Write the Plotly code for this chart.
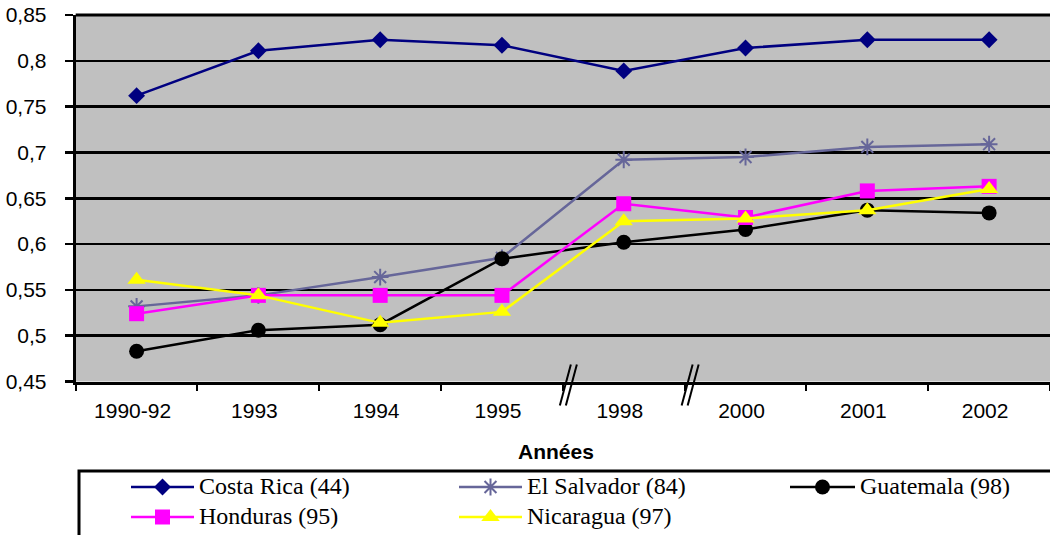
import plotly.graph_objects as go

# ---- data ----
categories = ["1990-92", "1993", "1994", "1995", "1998", "2000", "2001", "2002"]
costa_rica = [0.762, 0.811, 0.823, 0.817, 0.789, 0.814, 0.823, 0.823]
el_salvador = [0.532, 0.544, 0.564, 0.585, 0.692, 0.695, 0.706, 0.709]
guatemala = [0.483, 0.506, 0.512, 0.584, 0.602, 0.616, 0.637, 0.634]
honduras = [0.524, 0.544, 0.544, 0.544, 0.644, 0.629, 0.658, 0.663]
nicaragua = [0.561, 0.544, 0.514, 0.526, 0.625, 0.628, 0.637, 0.660]

series_names = ["Costa Rica (44)", "El Salvador (84)", "Guatemala (98)",
                "Honduras (95)", "Nicaragua (97)"]
ytick_vals = [0.45, 0.5, 0.55, 0.6, 0.65, 0.7, 0.75, 0.8, 0.85]
ytick_text = ["0,45", "0,5", "0,55", "0,6", "0,65", "0,7", "0,75", "0,8", "0,85"]
break_positions = [3.5, 4.5]
x_title = "Années"

# ---- styles ----
W, H = 1050, 535
PLOT_LEFT, PLOT_RIGHT, PLOT_TOP, PLOT_BOTTOM = 75.7, 1050.0, 15.0, 381.5
SERIF = "Liberation Serif"
SANS = "Liberation Sans"
styles = [
    dict(color="#000080", symbol="diamond", size=13, lw=0),
    dict(color="#666699", symbol="asterisk-open", size=14, lw=2),
    dict(color="#000000", symbol="circle", size=15, lw=0),
    dict(color="#FF00FF", symbol="square", size=15, lw=0),
    dict(color="#FFFF00", symbol="triangle-up", size=16, lw=0),
]
values = [costa_rica, el_salvador, guatemala, honduras, nicaragua]

fig = go.Figure()
for name, vals, st in zip(series_names, values, styles):
    fig.add_trace(go.Scatter(
        x=categories, y=vals, name=name, mode="lines+markers",
        line=dict(color=st["color"], width=2.5),
        marker=dict(symbol=st["symbol"], size=st["size"], color=st["color"],
                    line=dict(color=st["color"], width=st["lw"])),
        xaxis="x", yaxis="y", showlegend=False, cliponaxis=False,
    ))

# ---- manual legend (pixel overlay axes) ----
legend_slots = [(131, 194, 487), (459, 522, 487), (790, 855, 487),
                (131, 194, 517), (459, 522, 517)]
for name, st, (lx0, lx1, ly) in zip(series_names, styles, legend_slots):
    fig.add_trace(go.Scatter(
        x=[lx0, lx1], y=[ly, ly], mode="lines",
        line=dict(color=st["color"], width=2.5),
        xaxis="x2", yaxis="y2", showlegend=False, hoverinfo="skip"))
    fig.add_trace(go.Scatter(
        x=[(lx0 + lx1) / 2], y=[ly], mode="markers",
        marker=dict(symbol=st["symbol"], size=st["size"], color=st["color"],
                    line=dict(color=st["color"], width=st["lw"])),
        xaxis="x2", yaxis="y2", showlegend=False, hoverinfo="skip",
        cliponaxis=False))
    fig.add_annotation(x=lx1 + 3, y=ly - 1, xref="x2", yref="y2", text=name,
                       showarrow=False, xanchor="left", yanchor="middle",
                       font=dict(family=SERIF, size=24, color="black"))

shapes = [
    dict(type="rect", xref="x domain", yref="y domain", x0=0, x1=1, y0=0, y1=1,
         fillcolor="#C0C0C0", line=dict(width=0, color="rgba(0,0,0,0)"),
         layer="below"),
    dict(type="line", xref="x2", yref="y2", x0=PLOT_LEFT, x1=W + 5,
         y0=PLOT_TOP, y1=PLOT_TOP, line=dict(color="black", width=3)),
    dict(type="rect", xref="x2", yref="y2", x0=79, x1=1070, y0=471, y1=560,
         fillcolor="white", line=dict(color="black", width=3), layer="below"),
]
n_cat = len(categories)
spacing = (PLOT_RIGHT - PLOT_LEFT) / n_cat
for bp in break_positions:
    px = PLOT_LEFT + (bp + 0.5) * spacing
    for off in (-3, 3):
        shapes.append(dict(
            type="line", xref="x2", yref="y2",
            x0=px + off, x1=px + off + 11, y0=PLOT_BOTTOM + 24, y1=PLOT_BOTTOM - 17,
            line=dict(color="black", width=2), layer="above"))

fig.add_annotation(x=556, y=451, xref="x2", yref="y2", text="<b>" + x_title + "</b>",
                   showarrow=False, xanchor="center", yanchor="middle",
                   font=dict(family=SANS, size=21, color="black"))

fig.update_layout(
    width=W, height=H,
    margin=dict(l=0, r=0, t=0, b=0),
    paper_bgcolor="white", plot_bgcolor="rgba(0,0,0,0)",
    shapes=shapes,
    xaxis=dict(
        domain=[PLOT_LEFT / W, PLOT_RIGHT / W], type="category", range=[-0.5, n_cat - 0.5],
        showline=True, linecolor="black", linewidth=3, mirror=False,
        ticks="outside", tickson="boundaries", ticklen=6, tickwidth=2,
        tickcolor="black", showgrid=False, automargin=False,
        tickfont=dict(family=SANS, size=21, color="black"),
        ticklabelstandoff=8, ticklabelshift=-4,
        anchor="y",
    ),
    yaxis=dict(
        domain=[(H - PLOT_BOTTOM) / H, (H - PLOT_TOP) / H], range=[0.45, 0.85],
        tickvals=ytick_vals, ticktext=ytick_text,
        showline=True, linecolor="black", linewidth=3,
        ticks="outside", ticklen=8, tickwidth=2.5, tickcolor="black",
        showgrid=True, gridcolor="black", gridwidth=2.5, zeroline=False,
        automargin=False,
        tickfont=dict(family=SANS, size=21, color="black"),
        ticklabelstandoff=14,
        anchor="x",
    ),
    xaxis2=dict(domain=[0, 1], range=[0, W], visible=False, anchor="y2",
                fixedrange=True),
    yaxis2=dict(domain=[0, 1], range=[H, 0], visible=False, anchor="x2",
                fixedrange=True),
)

fig.write_html(
    "out.html",
    config={"displayModeBar": False, "staticPlot": True},
    post_script="document.documentElement.style.overflow='hidden';"
                "document.body.style.overflow='hidden';"
                "document.body.style.margin='0';",
)
